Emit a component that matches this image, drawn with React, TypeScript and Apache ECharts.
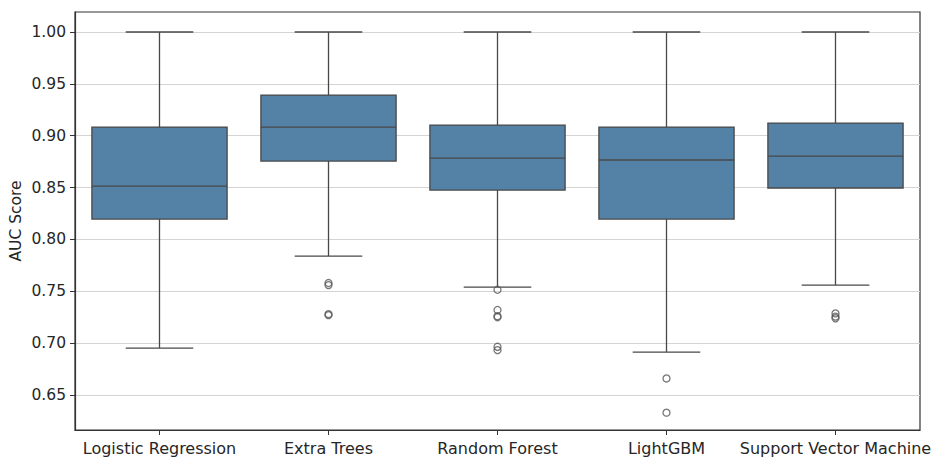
import React, { useEffect, useRef } from "react";
import * as echarts from "echarts";

const categories = [
  "Logistic Regression",
  "Extra Trees",
  "Random Forest",
  "LightGBM",
  "Support Vector Machine",
];
const whiskerLow = [0.6953, 0.784, 0.754, 0.6914, 0.756];
const q1 = [0.8197, 0.8756, 0.8476, 0.8197, 0.8496];
const median = [0.8515, 0.9084, 0.8785, 0.8766, 0.8804];
const q3 = [0.9084, 0.9392, 0.9103, 0.9084, 0.9122];
const whiskerHigh = [1.0, 1.0, 1.0, 1.0, 1.0];

const outlierCategory = [1, 1, 1, 1, 2, 2, 2, 2, 2, 2, 3, 3, 4, 4, 4];
const outlierValues = [
  0.758, 0.756, 0.728, 0.727,
  0.7515, 0.732, 0.726, 0.725, 0.6965, 0.6933,
  0.666, 0.633,
  0.7287, 0.7256, 0.724,
];

const yTicks = [0.65, 0.7, 0.75, 0.8, 0.85, 0.9, 0.95, 1.0];

const BOX_FILL = "#5481a6";
const LINE = "#484848";
const TEXT = "#262626";

export default function App() {
  const ref = useRef<HTMLDivElement>(null);

  useEffect(() => {
    if (!ref.current) return;
    const chart = echarts.init(ref.current, undefined, { renderer: "svg" });

    const boxData = categories.map((_, i) => [
      i,
      whiskerLow[i],
      q1[i],
      median[i],
      q3[i],
      whiskerHigh[i],
    ]);
    const outlierData = outlierValues.map((v, i) => [outlierCategory[i], v]);

    const option: any = {
      animation: false,
      backgroundColor: "#ffffff",
      textStyle: { fontFamily: "DejaVu Sans" },
      grid: {
        left: 75,
        right: 14,
        top: 12,
        bottom: 27,
        containLabel: false,
        outerBoundsMode: "none",
        show: true,
        borderColor: "#333333",
        borderWidth: 1.2,
        backgroundColor: "transparent",
      },
      xAxis: {
        type: "category",
        data: categories,
        boundaryGap: true,
        axisLine: { show: true, lineStyle: { color: "#333333", width: 1.2 } },
        axisTick: {
          show: true,
          alignWithLabel: true,
          length: 5,
          lineStyle: { color: "#333333" },
        },
        axisLabel: {
          color: TEXT,
          fontSize: 16,
          fontFamily: "DejaVu Sans",
          margin: 10,
          interval: 0,
          hideOverlap: false,
        },
        splitLine: { show: false },
      },
      yAxis: {
        type: "value",
        min: 0.6163,
        max: 1.0193,
        splitNumber: 8,
        name: "AUC Score",
        nameLocation: "middle",
        nameGap: 51,
        nameMoveOverlap: false,
        nameTextStyle: { color: TEXT, fontSize: 15.5, fontFamily: "DejaVu Sans" },
        axisLine: { show: true, lineStyle: { color: "#333333", width: 1.2 } },
        axisTick: {
          show: true,
          length: 5,
          lineStyle: { color: "#333333" },
          customValues: yTicks,
        },
        axisLabel: {
          color: TEXT,
          fontSize: 15.5,
          fontFamily: "DejaVu Sans",
          margin: 9,
          customValues: yTicks,
          formatter: (v: number) => v.toFixed(2),
        },
        splitLine: {
          show: true,
          lineStyle: { color: "#d4d4d4", width: 1.1 },
        },
      },
      series: [
        {
          type: "custom",
          data: boxData,
          encode: { x: 0, y: [1, 2, 3, 4, 5] },
          z: 3,
          renderItem: (params: any, api: any) => {
            const idx = api.value(0);
            const band = api.size([1, 0])[0];
            const boxW = band * 0.8;
            const capW = boxW / 2;
            const pLow = api.coord([idx, api.value(1)]);
            const pQ1 = api.coord([idx, api.value(2)]);
            const pMed = api.coord([idx, api.value(3)]);
            const pQ3 = api.coord([idx, api.value(4)]);
            const pHigh = api.coord([idx, api.value(5)]);
            const cx = pLow[0];
            const ls = { stroke: LINE, lineWidth: 1.3 };
            return {
              type: "group",
              children: [
                { type: "line", shape: { x1: cx, y1: pHigh[1], x2: cx, y2: pQ3[1] }, style: ls },
                { type: "line", shape: { x1: cx, y1: pQ1[1], x2: cx, y2: pLow[1] }, style: ls },
                { type: "line", shape: { x1: cx - capW / 2, y1: pHigh[1], x2: cx + capW / 2, y2: pHigh[1] }, style: ls },
                { type: "line", shape: { x1: cx - capW / 2, y1: pLow[1], x2: cx + capW / 2, y2: pLow[1] }, style: ls },
                {
                  type: "rect",
                  shape: { x: cx - boxW / 2, y: pQ3[1], width: boxW, height: pQ1[1] - pQ3[1] },
                  style: { fill: BOX_FILL, stroke: LINE, lineWidth: 1.3 },
                },
                { type: "line", shape: { x1: cx - boxW / 2, y1: pMed[1], x2: cx + boxW / 2, y2: pMed[1] }, style: ls },
              ],
            };
          },
        },
        {
          type: "scatter",
          data: outlierData,
          symbol: "circle",
          symbolSize: 7,
          z: 4,
          itemStyle: { color: "transparent", borderColor: "#555555", borderWidth: 1.3 },
        },
      ],
    };

    chart.setOption(option);
    return () => chart.dispose();
  }, []);

  return (
    <div
      ref={ref}
      style={{ position: "fixed", left: 0, top: 0, width: 934, height: 457 }}
    />
  );
}
